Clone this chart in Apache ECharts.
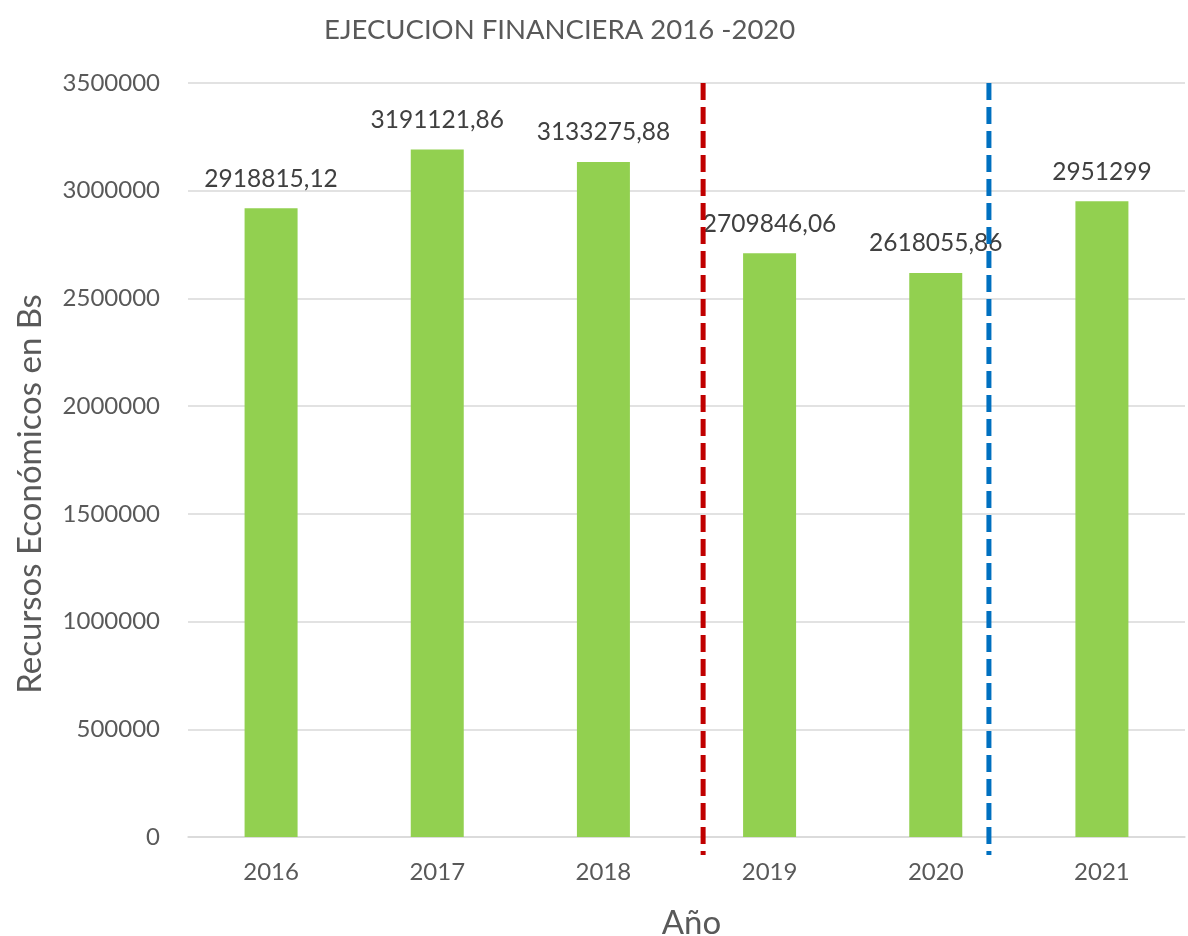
<!DOCTYPE html>
<html>
<head>
<meta charset="utf-8">
<script src="https://cdn.jsdelivr.net/npm/echarts@6/dist/echarts.min.js"></script>
<style>
  html, body { margin: 0; padding: 0; background: #fff; }
  #main { width: 1188px; height: 936px; }
</style>
</head>
<body>
<div id="main"></div>
<script>
// chart data
const years = ['2016', '2017', '2018', '2019', '2020', '2021'];
const recursos = [2918815.12, 3191121.86, 3133275.88, 2709846.06, 2618055.86, 2951299];
const yTicks = [0, 500000, 1000000, 1500000, 2000000, 2500000, 3000000, 3500000];
// dashed separators, in category index units
const separators = [2.6, 4.32];
const separatorColors = ['#C00000', '#0070C0'];

const FONT = 'Lato, "Noto Sans", sans-serif';

const chart = echarts.init(document.getElementById('main'));

chart.setOption({
    animation: false,
    backgroundColor: '#fff',
    title: {
        text: 'EJECUCION FINANCIERA 2016 -2020',
        left: 319,
        top: 11,
        textStyle: { fontFamily: FONT, fontSize: 27.5, fontWeight: 'normal', color: '#595959' }
    },
    grid: { left: 188, right: 3, top: 83, bottom: 99, outerBoundsMode: 'none', containLabel: false },
    xAxis: {
        type: 'category',
        data: years,
        name: 'Año',
        nameLocation: 'middle',
        nameGap: 70,
        nameTextStyle: { fontFamily: FONT, fontSize: 33, color: '#595959', padding: [0, 0, 0, 10] },
        axisTick: { show: false },
        axisLine: { lineStyle: { color: '#D9D9D9', width: 1.5 } },
        axisLabel: { fontFamily: FONT, fontSize: 24, color: '#595959', margin: 23 }
    },
    yAxis: {
        type: 'value',
        min: yTicks[0],
        max: yTicks[yTicks.length - 1],
        interval: 500000,
        name: 'Recursos Económicos en Bs',
        nameLocation: 'middle',
        nameGap: 141,
        nameTextStyle: { fontFamily: FONT, fontSize: 33, color: '#595959', padding: [0, 68, 0, 0] },
        axisLine: { show: false },
        axisTick: { show: false },
        splitLine: { lineStyle: { color: '#D9D9D9', width: 1.5 } },
        axisLabel: {
            fontFamily: FONT, fontSize: 24, color: '#595959', margin: 28,
            formatter: v => String(v)
        }
    },
    series: [{
        type: 'bar',
        data: recursos,
        barWidth: 53,
        itemStyle: { color: '#92D050' },
        label: {
            show: true,
            position: 'top',
            distance: 17,
            fontFamily: FONT,
            fontSize: 24.5,
            color: '#404040',
            formatter: p => String(p.value).replace('.', ',')
        }
    }]
});

// dashed vertical separators drawn from the axis scale
function drawSeparators() {
    const yTop = chart.convertToPixel({ yAxisIndex: 0 }, yTicks[yTicks.length - 1]);
    const yBottom = chart.convertToPixel({ yAxisIndex: 0 }, 0) + 18;
    const graphics = separators.map((s, i) => {
        const i0 = Math.floor(s);
        const x0 = chart.convertToPixel({ xAxisIndex: 0 }, years[i0]);
        const x1 = chart.convertToPixel({ xAxisIndex: 0 }, years[i0 + 1]);
        const x = x0 + (x1 - x0) * (s - i0);
        return {
            type: 'line',
            shape: { x1: x, y1: yTop, x2: x, y2: yBottom },
            style: { stroke: separatorColors[i], lineWidth: 5, lineDash: [17, 7] },
            z: 100
        };
    });
    chart.setOption({ graphic: graphics });
}
drawSeparators();
</script>
</body>
</html>
